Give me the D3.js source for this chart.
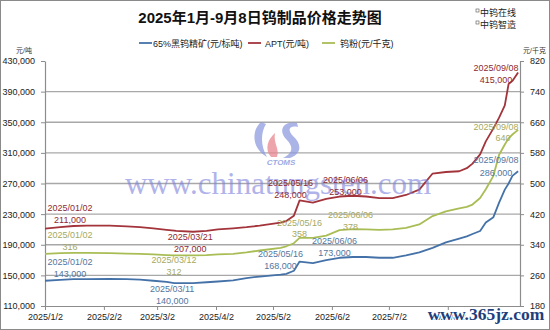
<!DOCTYPE html>
<html><head><meta charset="utf-8">
<script src="https://cdn.jsdelivr.net/npm/d3@7/dist/d3.min.js"></script>
<style>
body{margin:0;background:#fff}
text{font-family:"Liberation Sans","Noto Sans CJK SC",sans-serif}
</style>
</head><body><svg id="c" width="550" height="330"></svg>
<script>
// ---------- data ----------
const dates=["2025-01-02","2025-01-10","2025-01-17","2025-01-24","2025-02-05","2025-02-14","2025-02-21","2025-02-28",
"2025-03-07","2025-03-11","2025-03-12","2025-03-21","2025-03-28","2025-04-03","2025-04-11","2025-04-18","2025-04-25",
"2025-05-06","2025-05-09","2025-05-13","2025-05-16","2025-05-23","2025-05-30","2025-06-06","2025-06-13","2025-06-20",
"2025-06-27","2025-07-04","2025-07-11","2025-07-18","2025-07-25","2025-08-01","2025-08-08","2025-08-12","2025-08-15",
"2025-08-19","2025-08-22","2025-08-26","2025-08-29","2025-09-01","2025-09-03","2025-09-05","2025-09-08"];
const oreValues=[143000,144000,145000,145000,145500,145000,144500,143000,141500,140000,140000,140000,141000,142000,143500,146500,148500,
151000,152000,156000,168000,166000,170000,173000,174000,174000,173000,173000,176000,180000,186000,193000,198000,201000,204000,
208000,219000,226000,245000,262000,270000,280000,286000];
const aptValues=[211000,213000,214500,215000,215000,214000,213000,211500,209500,208500,208000,207000,208000,210000,211500,213000,215000,
219000,221000,228000,248000,245000,250000,253000,254000,253000,251000,251000,255000,262000,283000,285000,286000,290000,296000,
308000,325000,342000,356000,372000,400000,404000,415000];
const powderValues=[316,318,319,319,318,317,316,315,313,312,312,312,313,315,316,320,325,332,336,344,358,358,364,378,381,380,379,380,384,
393,415,427,435,439,445,462,485,520,575,602,618,628,640];

const leftTicks=[110000,150000,190000,230000,270000,310000,350000,390000,430000];
const rightTicks=[180,260,340,420,500,580,660,740,820];
const xTickDates=["2025-01-02","2025-02-02","2025-03-02","2025-04-02","2025-05-02","2025-06-02","2025-07-02","2025-08-02"];
const xTickLabels=["2025/1/2","2025/2/2","2025/3/2","2025/4/2","2025/5/2","2025/6/2","2025/7/2","2025/8/2"];
const seriesNames=["65%黑钨精矿(元/标吨)","APT(元/吨)","钨粉(元/千克)"];
const titleText="2025年1月-9月8日钨制品价格走势图";

const oreNoteDates=["2025-01-02","2025-03-11","2025-05-16","2025-06-06","2025-09-08"];
const oreNoteValues=[143000,140000,168000,173000,286000];
const aptNoteDates=["2025-01-02","2025-03-21","2025-05-16","2025-06-06","2025-09-08"];
const aptNoteValues=[211000,207000,248000,253000,415000];
const powderNoteDates=["2025-01-02","2025-03-12","2025-05-16","2025-06-06","2025-09-08"];
const powderNoteValues=[316,312,358,378,640];

// ---------- layout ----------
const parse=d3.timeParse("%Y-%m-%d");
const fmtDate=d3.timeFormat("%Y/%m/%d");
const L=45,R=520,T=61,B=306;
const svg=d3.select("#c");
const x=d3.scaleTime().domain([parse("2025-01-02"),parse("2025-09-09")]).range([L,R]);
const yL=d3.scaleLinear().domain([110000,430000]).range([B,T]);
const yR=d3.scaleLinear().domain([180,820]).range([B,T]);
const colBlue="#4472a8",colRed="#a3343b",colGreen="#a9bd55";
const txtBlue="#52779f",txtRed="#8e2a33",txtGreen="#a6a95f";

svg.append("rect").attr("x",0.5).attr("y",0.5).attr("width",549).attr("height",329)
  .attr("fill","#fff").attr("stroke","#8a8a8a");

// gridlines
svg.append("g").selectAll("line").data(leftTicks.slice(1,-1)).join("line")
  .attr("x1",L).attr("x2",R).attr("y1",d=>yL(d)).attr("y2",d=>yL(d))
  .attr("stroke","#a8a8a8").attr("stroke-width",1.3);

// axes
function styleAxis(g){
  g.selectAll("path").attr("stroke","#8c8c8c").attr("stroke-width",1.2);
  g.selectAll("line").attr("stroke","#8c8c8c");
  g.selectAll("text").attr("fill","#222").style("font-size","9px").style("font-family","Liberation Sans");
}
svg.append("g").attr("transform",`translate(${L},0)`)
  .call(d3.axisLeft(yL).tickValues(leftTicks).tickFormat(d3.format(",")).tickSize(4).tickSizeOuter(0).tickPadding(6))
  .call(styleAxis);
svg.append("g").attr("transform",`translate(${R},0)`)
  .call(d3.axisRight(yR).tickValues(rightTicks).tickSize(4).tickSizeOuter(0).tickPadding(6))
  .call(styleAxis);
svg.append("g").attr("transform",`translate(0,${B})`)
  .call(d3.axisBottom(x).tickValues(xTickDates.map(parse)).tickFormat((d,i)=>xTickLabels[i]).tickSize(4).tickSizeOuter(0).tickPadding(4))
  .call(styleAxis);

// unit labels
svg.append("text").attr("x",24).attr("y",53).attr("text-anchor","middle").style("font-size","7px").attr("fill","#333").text("元/吨");
svg.append("text").attr("x",546).attr("y",53).attr("text-anchor","end").style("font-size","7px").attr("fill","#333").text("元/千克");

// watermark: CTOMS logo
const logo=svg.append("g").attr("transform","translate(253,121)").attr("opacity",0.75);
logo.append("path").attr("d","M8,1 C-2,10 -1,28 14,36 C8,26 7,13 13,3 Z").attr("fill","#8e9be0");
logo.append("path").attr("d","M18,36 C11,28 15,18 22,12 C20,22 27,28 24,36 Z").attr("fill","#e8868f");
logo.append("path").attr("d","M44,2 C30,-1 25,10 33,18 C41,26 40,32 30,37 L37,37 C50,32 48,22 40,15 C34,9 36,4 45,6 Z").attr("fill","#8e9be0");
svg.append("text").attr("x",281).attr("y",165).attr("text-anchor","middle").style("font-size","8px")
  .style("font-weight","bold").style("font-style","italic").attr("fill","#9ea9e4").text("CTOMS");

// series lines
const pd=dates.map(parse);
function drawLine(vals,scale,color){
  svg.append("path").datum(vals).attr("fill","none").attr("stroke",color).attr("stroke-width",1.8)
    .attr("stroke-linejoin","round")
    .attr("d",d3.line().x((d,i)=>x(pd[i])).y(d=>scale(d)));
}
drawLine(oreValues,yL,colBlue);
drawLine(aptValues,yL,colRed);
drawLine(powderValues,yR,colGreen);

// watermark chinatungsten
svg.append("text").attr("x",278).attr("y",194).attr("text-anchor","middle")
  .style("font-family","Liberation Serif").style("font-size","31px").attr("fill","#7d82dc").attr("opacity",0.6)
  .text("www.chinatungsten.com");

// annotations
const annOffsets={
  ore:[[25,-18.6,12],[-2,7,12],[-19,-7,12],[-5,-16.6,12],[-22,-11,13]],
  apt:[[25,-20.5,12],[-3,5.5,12],[-9,-17,12],[6,-16,12],[-22,-3.5,12]],
  powder:[[25,-18,12],[-2,5,12],[0,-14.5,11],[11,-15,12],[-22,-2,11]]
};
const valDx={powder:[0,0,0,0,7]};
function annotate(key,ds,vs,scale,color,fmtV){
  ds.forEach((ds_,i)=>{
    const d=parse(ds_),px=x(d),py=scale(vs[i]);
    const [dx,dy,gap]=annOffsets[key][i];
    const vdx=(valDx[key]||[])[i]||0;
    svg.append("text").attr("x",px+dx).attr("y",py+dy).attr("text-anchor","middle").attr("dominant-baseline","middle")
      .style("font-size","9px").attr("fill",color).text(fmtDate(d));
    svg.append("text").attr("x",px+dx+vdx).attr("y",py+dy+gap).attr("text-anchor","middle").attr("dominant-baseline","middle")
      .style("font-size","9px").attr("fill",color).text(fmtV(vs[i]));
  });
}
annotate("apt",aptNoteDates,aptNoteValues,yL,txtRed,d3.format(","));
annotate("powder",powderNoteDates,powderNoteValues,yR,txtGreen,d3.format("d"));
annotate("ore",oreNoteDates,oreNoteValues,yL,txtBlue,d3.format(","));

// title
svg.append("text").attr("x",260).attr("y",23).attr("text-anchor","middle")
  .style("font-size","15px").style("font-weight","bold").attr("fill","#111").text(titleText);
// top-right brand
["中钨在线","中钨智造"].forEach((t,i)=>{
  svg.append("rect").attr("x",476).attr("y",9+i*12).attr("width",3).attr("height",3).attr("fill","none").attr("stroke","#555").attr("stroke-width",0.6);
  svg.append("text").attr("x",480).attr("y",16+i*12).style("font-size","9px").attr("fill","#222").text(t);
});

// legend
const legendPos=[[139,153],[248,265],[322,340]];
const legendCols=[colBlue,colRed,colGreen];
seriesNames.forEach((n,i)=>{
  const [lx,tx]=legendPos[i];
  svg.append("line").attr("x1",lx).attr("x2",lx+13).attr("y1",43).attr("y2",43).attr("stroke",legendCols[i]).attr("stroke-width",1.8);
  svg.append("text").attr("x",tx).attr("y",46.5).style("font-size","9px").attr("fill","#222").text(n);
});

// watermark 365jz
svg.append("text").attr("x",486).attr("y",320).attr("text-anchor","middle")
  .style("font-family","Liberation Serif").style("font-size","17.5px").style("font-weight","bold")
  .attr("fill","#1f3f7c").attr("stroke","#fff").attr("stroke-width",2.5).attr("paint-order","stroke")
  .text("www.365jz.com");
</script></body></html>
